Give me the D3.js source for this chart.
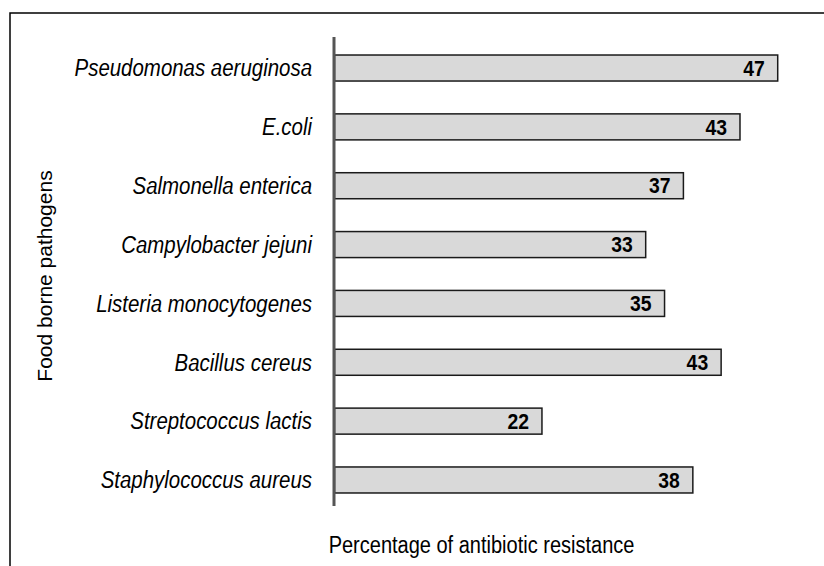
<!DOCTYPE html>
<html><head><meta charset="utf-8">
<script src="https://cdn.jsdelivr.net/npm/d3@7"></script>
<style>
html,body{margin:0;padding:0;background:#fff;}
svg{display:block;}
</style></head>
<body>
<svg id="chart" width="824" height="566"></svg>
<script>
// Data
const categories = ["Pseudomonas aeruginosa","E.coli","Salmonella enterica","Campylobacter jejuni","Listeria monocytogenes","Bacillus cereus","Streptococcus lactis","Staphylococcus aureus"];
const barValues = [47, 43, 37, 33, 35, 41, 22, 38];      // bar lengths as drawn
const valueLabels = ["47","43","37","33","35","43","22","38"]; // printed labels
const xTitle = "Percentage of antibiotic resistance";
const yTitle = "Food borne pathogens";

const svg = d3.select("#chart");
const font = "'Liberation Sans Narrow','Arial Narrow','Liberation Sans',Arial,sans-serif";
const sx = 0.87; // condensed look

// frame
svg.append("path").attr("d","M10,566V13H824").attr("fill","none").attr("stroke","#000").attr("stroke-width",1.5);

const x = d3.scaleLinear().domain([0,50]).range([334.5, 334.5 + 50*9.43]);
const y = d3.scaleBand().domain(categories).range([38.6,509.4]).paddingInner(0.558).paddingOuter(0.279);

svg.append("g").selectAll("rect").data(categories).join("rect")
  .attr("x", x(0)).attr("y", d=>y(d))
  .attr("width", (d,i)=>x(barValues[i])-x(0)).attr("height", y.bandwidth())
  .attr("fill","#d9d9d9").attr("stroke","#1a1a1a").attr("stroke-width",1.5);

// axis line
svg.append("line").attr("x1",334).attr("x2",334).attr("y1",37).attr("y2",506)
  .attr("stroke","#555").attr("stroke-width",3);

// category labels
svg.append("g").selectAll("g").data(categories).join("g")
  .attr("transform", d=>`translate(312,${y(d)+y.bandwidth()/2}) scale(${sx},1)`)
  .append("text").attr("dy","0.35em")
  .attr("text-anchor","end").attr("font-family",font).attr("font-style","italic")
  .attr("font-size",23.5).attr("fill","#000").text(d=>d);

// value labels
svg.append("g").selectAll("g").data(categories).join("g")
  .attr("transform", (d,i)=>`translate(${x(barValues[i])-13},${y(d)+y.bandwidth()/2}) scale(0.9,1)`)
  .append("text").attr("dy","0.36em")
  .attr("text-anchor","end").attr("font-family",font).attr("font-weight","bold")
  .attr("font-size",21.5).attr("fill","#000").text((d,i)=>valueLabels[i]);

// axis titles
svg.append("text").attr("transform",`translate(481.5,553) scale(${sx},1)`).attr("text-anchor","middle")
  .attr("font-family",font).attr("font-size",23).attr("fill","#000").text(xTitle);
svg.append("text").attr("transform","translate(52,276) rotate(-90)").attr("text-anchor","middle")
  .attr("font-family",font).attr("font-size",21).attr("fill","#000").text(yTitle);
</script>
</body></html>
